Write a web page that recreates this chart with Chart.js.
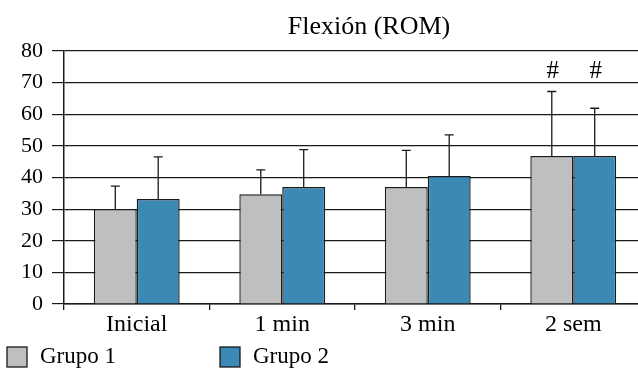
<!DOCTYPE html>
<html>
<head>
<meta charset="utf-8">
<script src="https://cdn.jsdelivr.net/npm/chart.js@4"></script>
<style>
  html, body { margin: 0; padding: 0; background: #fff; overflow: hidden; }
  #wrap { width: 650px; height: 368px; }
  .probe { position: absolute; left: -999px; font-family: "Liberation Serif"; }
</style>
</head>
<body>
<span class="probe">Flexión Grupo 0123456789</span>
<div id="wrap"><canvas id="chart" width="650" height="368"></canvas></div>
<script>
const categories = ["Inicial", "1 min", "3 min", "2 sem"]
const seriesNames = ["Grupo 1", "Grupo 2"]
const grupo1Mean = [30, 34.7, 37, 46.8]
const grupo1Sd = [7.3, 7.7, 11.6, 20.4]
const grupo2Mean = [33.2, 37, 40.5, 46.8]
const grupo2Sd = [13.3, 11.8, 13, 15.1]
const grupo1Marks = ["", "", "", "#"]
const grupo2Marks = ["", "", "", "#"]
const markLevel = 73.5
const yTicks = [0, 10, 20, 30, 40, 50, 60, 70, 80]

const FONT = "Liberation Serif, Times New Roman, serif"
const colors = ["#bebfc1", "#3b8ab6"]
const edge = "#1a1a1a"

// upper-only whiskers with a small cap, plus the "#" marks
const errorBars = {
  id: "errorBars",
  afterDatasetsDraw(chart) {
    const ctx = chart.ctx
    const y = chart.scales.y
    const sds = [grupo1Sd, grupo2Sd]
    const marks = [grupo1Marks, grupo2Marks]
    ctx.save()
    ctx.strokeStyle = edge
    ctx.lineWidth = 1.3
    chart.data.datasets.forEach((ds, i) => {
      const meta = chart.getDatasetMeta(i)
      meta.data.forEach((bar, j) => {
        const top = y.getPixelForValue(ds.data[j] + sds[i][j])
        ctx.beginPath()
        ctx.moveTo(bar.x, bar.y)
        ctx.lineTo(bar.x, top)
        ctx.moveTo(bar.x - 4.5, top)
        ctx.lineTo(bar.x + 4.5, top)
        ctx.stroke()
        if (marks[i][j]) {
          ctx.fillStyle = "#000"
          ctx.font = "25px " + FONT
          ctx.textAlign = "center"
          ctx.textBaseline = "middle"
          ctx.fillText(marks[i][j], bar.x + 1, y.getPixelForValue(markLevel))
        }
      })
    })
    ctx.restore()
  }
}

const titleAndLegend = {
  id: "titleAndLegend",
  afterDraw(chart) {
    const ctx = chart.ctx
    ctx.save()
    ctx.fillStyle = "#000"
    ctx.font = "26px " + FONT
    ctx.textAlign = "center"
    ctx.textBaseline = "alphabetic"
    ctx.fillText("Flexión (ROM)", 369, 34)

    const items = [{ x: 7 }, { x: 220 }]
    ctx.font = "23px " + FONT
    ctx.textAlign = "left"
    ctx.textBaseline = "middle"
    items.forEach((it, i) => {
      ctx.fillStyle = colors[i]
      ctx.fillRect(it.x, 347, 20, 20)
      ctx.strokeStyle = edge
      ctx.lineWidth = 1.3
      ctx.strokeRect(it.x, 347, 20, 20)
      ctx.fillStyle = "#000"
      ctx.fillText(seriesNames[i], it.x + 33, 357)
    })
    ctx.restore()
  }
}

function draw() {
  new Chart(document.getElementById("chart"), {
    type: "bar",
    data: {
      labels: categories,
      datasets: [
        { label: seriesNames[0], data: grupo1Mean, backgroundColor: colors[0], borderColor: edge, borderWidth: 1.4 },
        { label: seriesNames[1], data: grupo2Mean, backgroundColor: colors[1], borderColor: edge, borderWidth: 1.4 }
      ]
    },
    options: {
      responsive: false,
      animation: false,
      devicePixelRatio: 1,
      categoryPercentage: 0.59,
      barPercentage: 1,
      layout: { padding: { top: 51, bottom: 28, left: 0, right: 4 } },
      plugins: {
        legend: { display: false },
        title: { display: false },
        tooltip: { enabled: false }
      },
      scales: {
        x: {
          grid: { offset: true, drawOnChartArea: false, drawTicks: true, tickLength: 6, color: edge, lineWidth: 1.3 },
          border: { display: true, color: edge, width: 1.5 },
          ticks: { color: "#000", font: { family: FONT, size: 24 }, padding: 0 },
          afterFit(scale) { scale.height = 36 }
        },
        y: {
          min: 0,
          max: 80,
          afterBuildTicks(scale) { scale.ticks = yTicks.map(v => ({ value: v })) },
          grid: { color: edge, lineWidth: 1.2, tickLength: 12 },
          border: { display: true, color: edge, width: 1.5 },
          ticks: { color: "#000", font: { family: FONT, size: 22 }, padding: 9 },
          afterFit(scale) { scale.width = 64 }
        }
      }
    },
    plugins: [errorBars, titleAndLegend]
  })
}

document.fonts.load('22px "Liberation Serif"').then(draw, draw)
</script>
</body>
</html>
